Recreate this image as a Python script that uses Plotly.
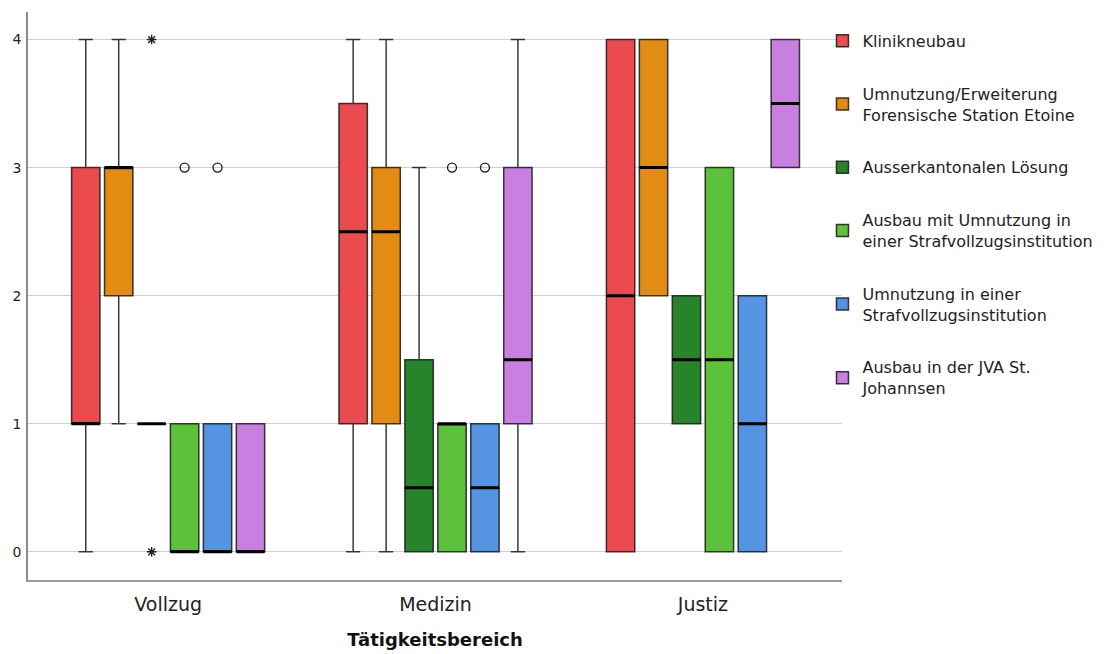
import plotly.graph_objects as go

# ---------------- data ----------------
groups = ["Vollzug", "Medizin", "Justiz"]
series = [
    "Klinikneubau",
    "Umnutzung/Erweiterung<br>Forensische Station Etoine",
    "Ausserkantonalen Lösung",
    "Ausbau mit Umnutzung in<br>einer Strafvollzugsinstitution",
    "Umnutzung in einer<br>Strafvollzugsinstitution",
    "Ausbau in der JVA St.<br>Johannsen",
]
colors = ["#EB4A4F", "#E38C13", "#27842B", "#5DC23B", "#5494E3", "#C97FE0"]

# per series: values for [Vollzug, Medizin, Justiz]
whisker_low = [[0, 0, 0], [1, 0, 2], [1, 0, 1], [0, 0, 0], [0, 0, 0], [0, 0, 3]]
q1_vals     = [[1, 1, 0], [2, 1, 2], [1, 0, 1], [0, 0, 0], [0, 0, 0], [0, 1, 3]]
median_vals = [[1, 2.5, 2], [3, 2.5, 3], [1, 0.5, 1.5], [0, 1, 1.5], [0, 0.5, 1], [0, 1.5, 3.5]]
q3_vals     = [[3, 3.5, 4], [3, 3, 4], [1, 1.5, 2], [1, 1, 3], [1, 1, 2], [1, 3, 4]]
whisker_high = [[4, 4, 4], [4, 4, 4], [1, 3, 2], [1, 1, 3], [1, 1, 2], [1, 4, 4]]

# outliers: series index, group index, value, kind
out_series = [2, 2, 3, 3, 4, 4]
out_group  = [0, 0, 0, 1, 0, 1]
out_value  = [4, 0, 3, 3, 3, 3]
out_kind   = ["extreme", "extreme", "outlier", "outlier", "outlier", "outlier"]

y_ticks = [0, 1, 2, 3, 4]

# ---------------- layout constants ----------------
FONT = "DejaVu Sans"
n_series = len(series)
step = 0.1232
box_w = 0.106


def xpos(g, s):
    return g + (s - (n_series - 1) / 2) * step


fig = go.Figure()

for s, name in enumerate(series):
    xs = [xpos(g, s) for g in range(len(groups))]
    fig.add_trace(go.Box(
        x=xs,
        q1=q1_vals[s], median=median_vals[s], q3=q3_vals[s],
        lowerfence=whisker_low[s], upperfence=whisker_high[s],
        width=box_w, whiskerwidth=0.5,
        fillcolor=colors[s],
        line=dict(color="rgba(30,30,30,0.88)", width=1.5),
        name=name, legendgroup=name, showlegend=True,
        hoverinfo="skip",
    ))
    # thick median line
    fig.add_trace(go.Box(
        x=xs,
        q1=median_vals[s], median=median_vals[s], q3=median_vals[s],
        lowerfence=median_vals[s], upperfence=median_vals[s],
        width=box_w, whiskerwidth=0,
        fillcolor="rgba(0,0,0,0)",
        line=dict(color="black", width=3),
        name=name, legendgroup=name, showlegend=False,
        hoverinfo="skip",
    ))

for kind, symbol, size in [("outlier", "circle-open", 9), ("extreme", "asterisk-open", 8)]:
    xs, ys = [], []
    for s, g, v, k in zip(out_series, out_group, out_value, out_kind):
        if k == kind:
            xs.append(xpos(g, s))
            ys.append(v)
    fig.add_trace(go.Scatter(
        x=xs, y=ys, mode="markers", showlegend=False, hoverinfo="skip",
        marker=dict(symbol=symbol, size=size, color="#222",
                    line=dict(color="#222", width=1.4)),
    ))

fig.update_layout(
    width=1107, height=646,
    margin=dict(l=20, r=273, t=4, b=74),
    paper_bgcolor="white", plot_bgcolor="white",
    boxmode="overlay",
    font=dict(family=FONT, color="#222"),
    legend=dict(
        x=0.976, xanchor="left", y=0.979, yanchor="top",
        font=dict(family=FONT, size=16, color="#222"),
        tracegroupgap=29, bgcolor="rgba(0,0,0,0)",
    ),
    xaxis=dict(
        range=[-0.524, 2.52],
        tickvals=list(range(len(groups))), ticktext=groups,
        tickfont=dict(family=FONT, size=19, color="#222"),
        showgrid=False, zeroline=False,
        showline=True, linecolor="#9a9a9a", linewidth=1.5,
        ticks="", ticklabelstandoff=6, automargin=False,
        title=dict(text="Tätigkeitsbereich",
                   font=dict(family=FONT, size=18, color="#111", weight="bold"),
                   standoff=20),
    ),
    yaxis=dict(
        range=[-0.22, 4.215],
        tickvals=y_ticks, ticktext=[str(t) for t in y_ticks],
        tickfont=dict(family=FONT, size=14, color="#222"),
        showgrid=True, gridcolor="#cfcfcf", gridwidth=1.2,
        zeroline=False,
        showline=True, linecolor="#8a8a8a", linewidth=1.5,
        ticks="", ticklabelstandoff=2, automargin=False,
    ),
)

fig.write_html("out.html")
